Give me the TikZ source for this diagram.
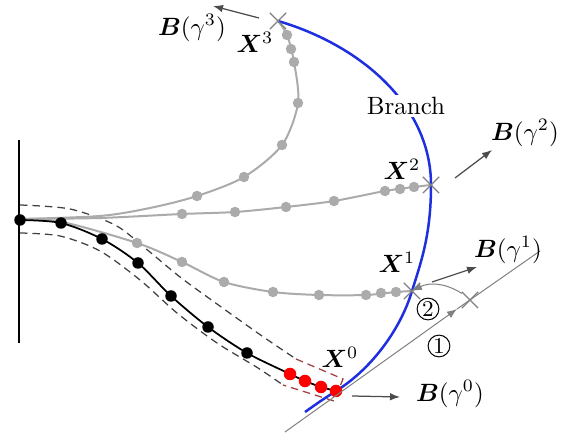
\documentclass[tikz,border=0pt]{standalone}
\usepackage{amsmath,amssymb,bm}
\usepackage{xcolor}
\usepackage{tikz}
\usetikzlibrary{arrows.meta,shapes.misc}
\definecolor{branchBlue}{HTML}{1E2FE0}
\definecolor{pathGray}{HTML}{ABABAB}
\definecolor{boxRed}{HTML}{A04040}

\tikzset{
  bdot/.style={circle,fill=black,inner sep=0pt,minimum size=4.6pt},
  gdot/.style={circle,fill=pathGray,inner sep=0pt,minimum size=4.2pt},
  rdot/.style={circle,fill=red,inner sep=0pt,minimum size=5pt},
  xmark/.style={cross out,draw=gray,line width=0.5pt,inner sep=0pt,minimum size=6pt},
  gpath/.style={pathGray,line width=0.8pt},
  tube/.style={densely dashed,black!75,line width=0.5pt},
  barrow/.style={->,black!70,line width=0.5pt},
  tang/.style={gray,line width=0.4pt},
  numc/.style={circle,draw,inner sep=0.4pt,font=\small},
}

\begin{document}
\begin{tikzpicture}[>={Latex[length=4pt,width=3pt]},x=0.4pt,y=-0.4pt]
    \useasboundingbox (0,0) rectangle (580,437);
    % wall
    \coordinate (w0) at (19,140);
    \coordinate (w1) at (19,343);
    \draw[line width=0.7pt] (w0)--(w1);
    % tube around the current path
    \draw[tube] plot[smooth] coordinates {(20,205) (70,209) (115,225) (145,248) (180,277) (217,304) (262,336) (296,359)};
    \draw[tube] plot[smooth] coordinates {(20,233) (60,236) (100,251) (140,280) (177,313) (217,343) (258,368) (283,385)};
    \draw[densely dashed,boxRed,line width=0.5pt] (296,359)--(343,379)--(334,401)--(283,385);
    % gray paths
    \draw[gpath] plot[smooth] coordinates {(20,220) (62,222) (137,243) (182,262) (224,282) (273,292) (319,295) (366,295) (396,292) (412,291)};
    \draw[gpath] plot[smooth] coordinates {(20,219) (100,218) (182,214) (235,212) (286,207) (334,201) (385,191) (414,187) (431,185)};
    \draw[gpath] plot[smooth] coordinates {(20,219) (100,216) (150,208) (197,196) (244,177) (282,145) (298,103) (294,62) (287,35) (278,21)};
    % black path
    \draw[line width=0.7pt] plot[smooth] coordinates {(20,220) (61,223) (102,239) (138,263) (171,296) (208,327) (247,353) (290,374) (305,381) (321,387) (336,391)};
    % end points
    \coordinate (x0) at (336,391);
    \coordinate (x1) at (412,291);
    \coordinate (x2) at (431,185);
    \coordinate (x3) at (278,21);
    \coordinate (bend) at (305,412);
    % branch
    \draw[branchBlue,line width=1pt] (x3) .. controls (360,45) and (431,105) .. (x2)
      .. controls (431,235) and (421,262) .. (x1)
      .. controls (400,331) and (370,370) .. (x0)
      .. controls (322,400) .. (bend);
    \node[fill=white,inner sep=1pt] (branch) at (406,106) {Branch};
    % dots
    \foreach \p/\n in {(20,220)/b0,(61,223)/b1,(102,239)/b2,(138,263)/b3,(171,296)/b4,(208,327)/b5,(247,353)/b6}
      \node[bdot] (\n) at \p {};
    \foreach \p/\n in {(290,374)/r1,(305,381)/r2,(321,387)/r3,(336,391)/r4}
      \node[rdot] (\n) at \p {};
    \foreach \p [count=\i] in {(137,243),(182,262),(224,282),(273,292),(319,295),(366,295),(381,293),(396,292)}
      \node[gdot] (ga\i) at \p {};
    \foreach \p [count=\i] in {(182,214),(235,212),(286,207),(334,201),(385,191),(400,189),(414,187)}
      \node[gdot] (gb\i) at \p {};
    \foreach \p [count=\i] in {(197,196),(244,177),(282,145),(298,103),(294,62),(291,49),(287,35)}
      \node[gdot] (gc\i) at \p {};
    \node[xmark] (m1) at (x1) {};
    \node[xmark] (m2) at (x2) {};
    \node[xmark] (m3) at (x3) {};
    \node (lx0) at (340,357) {$\bm{X}^0$};
    \node (lx1) at (397,262) {$\bm{X}^1$};
    \node (lx2) at (402,169) {$\bm{X}^2$};
    \node (lx3) at (255,42) {$\bm{X}^3$};
    % tangent and correction step
    \coordinate (t0) at (285,432);
    \coordinate (tm) at (457,309);
    \coordinate (t1) at (540,251);
    \node[xmark] (c1) at (470,300) {};
    \draw[tang,->] (t0)--(tm);
    \draw[tang] (tm)--(t1);
    \draw[tang,->] (c1) to[bend right=30] (x1);
    \node[numc] (n2) at (428,309) {2};
    \node[numc] (n1) at (439,346) {1};
    % directions
    \coordinate (a0) at (352,396); \coordinate (e0) at (400,397);
    \coordinate (a1) at (432,282); \coordinate (e1) at (477,267);
    \coordinate (a2) at (455,178); \coordinate (e2) at (492,150);
    \coordinate (a3) at (259,18);  \coordinate (e3) at (213,6);
    \draw[barrow] (a0)--(e0);
    \draw[barrow] (a1)--(e1);
    \draw[barrow] (a2)--(e2);
    \draw[barrow] (a3)--(e3);
    \node (lb0) at (450,394) {$\bm{B}(\gamma^0)$};
    \node (lb1) at (508,250) {$\bm{B}(\gamma^1)$};
    \node (lb2) at (525,133) {$\bm{B}(\gamma^2)$};
    \node (lb3) at (192,28) {$\bm{B}(\gamma^3)$};
  \end{tikzpicture}
\end{document}
